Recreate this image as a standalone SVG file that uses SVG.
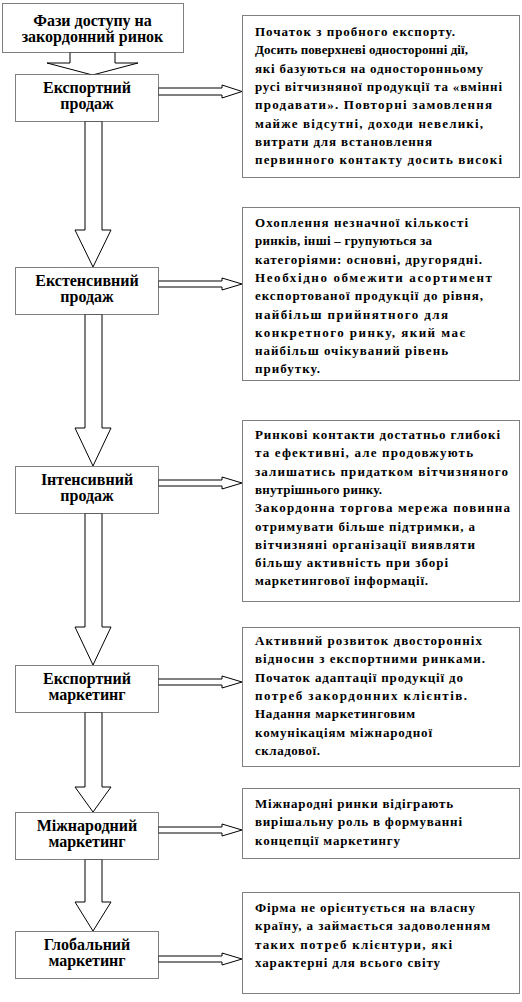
<svg xmlns="http://www.w3.org/2000/svg" width="522" height="1002" viewBox="0 0 522 1002">
<style>
.box{fill:#fff;stroke:#000;stroke-width:1;stroke-dasharray:1 1}
.arr{fill:#fff;stroke:#000;stroke-width:1;stroke-linejoin:miter}
.t{font-family:"Liberation Serif","Times New Roman",serif;font-weight:bold;font-size:13px;fill:#000}
.c{text-anchor:middle;font-size:16px}
</style>
<rect width="522" height="1002" fill="#fff"/>
<g id="connectors">
<polygon class="arr" points="70,52 115,52 115,63 138,63 92.5,75 47,63 70,63"/>
<polygon class="arr" points="85,121 102,121 102,230 111,230 93,267 75,230 85,230"/>
<polygon class="arr" points="85,314 102,314 102,428 111,428 93,466 75,428 85,428"/>
<polygon class="arr" points="85,513 102,513 102,627 111,627 93,665 75,627 85,627"/>
<polygon class="arr" points="85,712 102,712 102,787 111,787 93,812 75,787 85,787"/>
<polygon class="arr" points="85,859 102,859 102,902 111,902 93,931 75,902 85,902"/>
<polygon class="arr" points="158,88 222,88 222,85 242,91.5 222,98 222,95 158,95"/>
<polygon class="arr" points="158,281 222,281 222,278 242,284 222,290 222,287 158,287"/>
<polygon class="arr" points="158,480 222,480 222,477 242,483 222,489 222,486 158,486"/>
<polygon class="arr" points="158,679 222,679 222,676 242,682 222,688 222,685 158,685"/>
<polygon class="arr" points="158,827 222,827 222,824 242,830 222,836 222,833 158,833"/>
<polygon class="arr" points="158,956 222,956 222,953 242,959 222,965 222,962 158,962"/>
</g>
<g id="title">
<rect class="box" x="2.5" y="3.5" width="181" height="49"/>
<text class="t c" x="92.5" y="26">Фази доступу на</text>
<text class="t c" x="92.5" y="42">закордонний ринок</text>
</g>
<g id="n1">
<rect class="box" x="15.5" y="74.5" width="143" height="47"/>
<text class="t c" x="87" y="93">Експортний</text>
<text class="t c" x="87" y="109">продаж</text>
</g>
<g id="n2">
<rect class="box" x="15.5" y="267.5" width="143" height="47"/>
<text class="t c" x="87" y="286">Екстенсивний</text>
<text class="t c" x="87" y="302">продаж</text>
</g>
<g id="n3">
<rect class="box" x="15.5" y="466.5" width="143" height="47"/>
<text class="t c" x="87" y="485">Інтенсивний</text>
<text class="t c" x="87" y="501">продаж</text>
</g>
<g id="n4">
<rect class="box" x="15.5" y="665.5" width="143" height="47"/>
<text class="t c" x="87" y="684">Експортний</text>
<text class="t c" x="87" y="700">маркетинг</text>
</g>
<g id="n5">
<rect class="box" x="15.5" y="812.5" width="143" height="47"/>
<text class="t c" x="87" y="831">Міжнародний</text>
<text class="t c" x="87" y="847">маркетинг</text>
</g>
<g id="n6">
<rect class="box" x="15.5" y="931.5" width="143" height="47"/>
<text class="t c" x="87" y="950">Глобальний</text>
<text class="t c" x="87" y="966">маркетинг</text>
</g>
<g id="d1">
<rect class="box" x="242.5" y="15.5" width="277" height="162"/>
<text class="t" x="255" y="36" textLength="200">Початок з пробного експорту.</text>
<text class="t" x="255" y="54.3" textLength="213">Досить поверхневі односторонні дії,</text>
<text class="t" x="255" y="72.6" textLength="228">які базуються на односторонньому</text>
<text class="t" x="255" y="90.9" textLength="247">русі вітчизняної продукції та «вмінні</text>
<text class="t" x="255" y="109.2" textLength="237">продавати». Повторні замовлення</text>
<text class="t" x="255" y="127.5" textLength="228">майже відсутні, доходи невеликі,</text>
<text class="t" x="255" y="145.8" textLength="177">витрати для встановлення</text>
<text class="t" x="255" y="164.1" textLength="247">первинного контакту досить високі</text>
</g>
<g id="d2">
<rect class="box" x="242.5" y="207.5" width="277" height="173"/>
<text class="t" x="255" y="227" textLength="213">Охоплення незначної кількості</text>
<text class="t" x="255" y="245.3" textLength="177">ринків, інші – групуються за</text>
<text class="t" x="255" y="263.6" textLength="227">категоріями: основні, другорядні.</text>
<text class="t" x="255" y="281.9" textLength="237">Необхідно обмежити асортимент</text>
<text class="t" x="255" y="300.2" textLength="228">експортованої продукції до рівня,</text>
<text class="t" x="255" y="318.5" textLength="193">найбільш прийнятного для</text>
<text class="t" x="255" y="336.8" textLength="210">конкретного ринку, який має</text>
<text class="t" x="255" y="355.1" textLength="193">найбільш очікуваний рівень</text>
<text class="t" x="255" y="373.4" textLength="65">прибутку.</text>
</g>
<g id="d3">
<rect class="box" x="242.5" y="420.5" width="277" height="181"/>
<text class="t" x="255" y="439" textLength="245">Ринкові контакти достатньо глибокі</text>
<text class="t" x="255" y="457.3" textLength="218">та ефективні, але продовжують</text>
<text class="t" x="255" y="475.6" textLength="253">залишатись придатком вітчизняного</text>
<text class="t" x="255" y="493.9" textLength="127">внутрішнього ринку.</text>
<text class="t" x="255" y="512.2" textLength="255">Закордонна торгова мережа повинна</text>
<text class="t" x="255" y="530.5" textLength="220">отримувати більше підтримки, а</text>
<text class="t" x="255" y="548.8" textLength="220">вітчизняні організації виявляти</text>
<text class="t" x="255" y="567.1" textLength="193">більшу активність при зборі</text>
<text class="t" x="255" y="585.4" textLength="173">маркетингової інформації.</text>
</g>
<g id="d4">
<rect class="box" x="242.5" y="627.5" width="277" height="139"/>
<text class="t" x="255" y="645" textLength="227">Активний розвиток двосторонніх</text>
<text class="t" x="255" y="663.3" textLength="230">відносин з експортними ринками.</text>
<text class="t" x="255" y="681.6" textLength="208">Початок адаптації продукції до</text>
<text class="t" x="255" y="699.9" textLength="212">потреб закордонних клієнтів.</text>
<text class="t" x="255" y="718.2" textLength="160">Надання маркетинговим</text>
<text class="t" x="255" y="736.5" textLength="177">комунікаціям міжнародної</text>
<text class="t" x="255" y="754.8" textLength="65">складової.</text>
</g>
<g id="d5">
<rect class="box" x="242.5" y="788.5" width="277" height="70"/>
<text class="t" x="255" y="808" textLength="198">Міжнародні ринки відіграють</text>
<text class="t" x="255" y="826.3" textLength="207">вирішальну роль в формуванні</text>
<text class="t" x="255" y="844.6" textLength="145">концепції маркетингу</text>
</g>
<g id="d6">
<rect class="box" x="242.5" y="892.5" width="277" height="101"/>
<text class="t" x="255" y="912" textLength="220">Фірма не орієнтується на власну</text>
<text class="t" x="255" y="930.3" textLength="235">країну, а займається задоволенням</text>
<text class="t" x="255" y="948.6" textLength="197">таких потреб клієнтури, які</text>
<text class="t" x="255" y="966.9" textLength="185">характерні для всього світу</text>
</g>
</svg>
